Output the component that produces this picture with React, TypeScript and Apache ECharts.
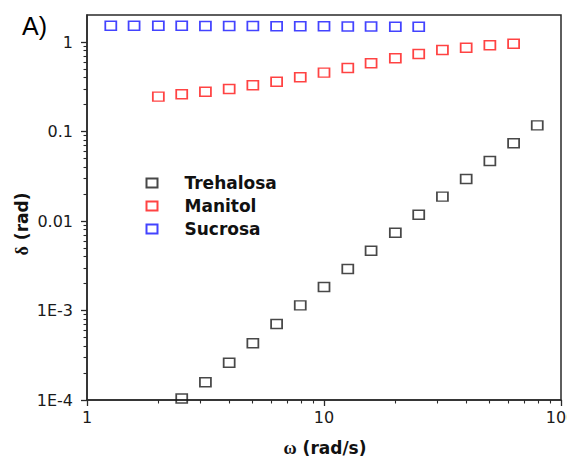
import React, { useEffect, useRef } from "react";
import * as echarts from "echarts";

const seriesNames = ["Trehalosa", "Manitol", "Sucrosa"];
const seriesColors = ["#1a1a1a", "#ff1414", "#1414ff"];

const freqTrehalosa = [2.51, 3.16, 3.98, 5.01, 6.31, 7.94, 10, 12.6, 15.8, 20, 25.1, 31.6, 39.8, 50.1, 63.1, 79.4];
const deltaTrehalosa = [1.04e-4, 1.58e-4, 2.61e-4, 4.3e-4, 7.06e-4, 1.14e-3, 1.83e-3, 2.91e-3, 4.66e-3, 7.4e-3, 0.01175, 0.0187, 0.0295, 0.0468, 0.0738, 0.117];

const freqManitol = [2, 2.51, 3.16, 3.98, 5.01, 6.31, 7.94, 10, 12.6, 15.8, 20, 25.1, 31.6, 39.8, 50.1, 63.1];
const deltaManitol = [0.245, 0.26, 0.278, 0.298, 0.328, 0.36, 0.403, 0.454, 0.512, 0.578, 0.658, 0.734, 0.814, 0.863, 0.919, 0.957];

const freqSucrosa = [1.26, 1.58, 2, 2.51, 3.16, 3.98, 5.01, 6.31, 7.94, 10, 12.6, 15.8, 20, 25.1];
const deltaSucrosa = [1.52, 1.52, 1.52, 1.52, 1.51, 1.51, 1.51, 1.5, 1.5, 1.5, 1.49, 1.49, 1.48, 1.48];

const xTickValues = [1, 10, 100];
const yTickValues = [1e-4, 1e-3, 0.01, 0.1, 1];

const zip = (xs: number[], ys: number[]) => xs.map((x, i) => [x, ys[i]]);

const AXIS_COLOR = "#2a2a2a";
const LABEL_FONT = "DejaVu Sans";

export default function App() {
  const ref = useRef<HTMLDivElement>(null);

  useEffect(() => {
    if (!ref.current) return;
    const chart = echarts.init(ref.current, undefined, { renderer: "svg" });

    const yLabel = (v: number) => {
      if (v >= 0.01) return String(Number(v.toPrecision(3)));
      return "1E" + Math.round(Math.log10(v));
    };

    const allData = [
      zip(freqTrehalosa, deltaTrehalosa),
      zip(freqManitol, deltaManitol),
      zip(freqSucrosa, deltaSucrosa),
    ];

    chart.setOption({
      animation: false,
      backgroundColor: "#ffffff",
      grid: [
        {
          left: 87,
          right: 6,
          top: 15,
          bottom: 58,
          outerBoundsMode: "none",
          containLabel: false,
          show: true,
          borderColor: AXIS_COLOR,
          borderWidth: 1.5,
          backgroundColor: "transparent",
        },
        { left: 87, right: 6, top: 42, bottom: 58, outerBoundsMode: "none", containLabel: false },
      ],
      xAxis: [
        {
          gridIndex: 0,
          type: "log",
          logBase: 10,
          min: xTickValues[0],
          max: xTickValues[xTickValues.length - 1],
          axisLine: { show: true, lineStyle: { color: AXIS_COLOR, width: 1.5 } },
          axisTick: { show: true, length: 6, lineStyle: { color: AXIS_COLOR, width: 1.3 } },
          minorTick: { show: true, splitNumber: 9, length: 3.5, lineStyle: { color: AXIS_COLOR, width: 1.1 } },
          splitLine: { show: false },
          axisLabel: {
            margin: 9,
            fontSize: 16,
            fontFamily: LABEL_FONT,
            color: "#1a1a1a",
            hideOverlap: false,
            formatter: (v: number) => String(v),
          },
        },
        { gridIndex: 1, type: "value", show: false, min: 0, max: 1 },
      ],
      yAxis: [
        {
          gridIndex: 0,
          type: "log",
          logBase: 10,
          min: 1e-4,
          max: 2,
          axisLine: { show: true, lineStyle: { color: AXIS_COLOR, width: 1.5 } },
          axisTick: { show: false },
          axisLabel: { show: false },
          splitLine: { show: false },
        },
        {
          gridIndex: 1,
          type: "log",
          logBase: 10,
          min: yTickValues[0],
          max: yTickValues[yTickValues.length - 1],
          axisLine: { show: false },
          axisTick: { show: true, length: 6, lineStyle: { color: AXIS_COLOR, width: 1.3 } },
          minorTick: { show: true, splitNumber: 9, length: 3.5, lineStyle: { color: AXIS_COLOR, width: 1.1 } },
          splitLine: { show: false },
          axisLabel: {
            margin: 14,
            fontSize: 16,
            fontFamily: LABEL_FONT,
            color: "#1a1a1a",
            formatter: yLabel,
          },
        },
      ],
      legend: {
        orient: "vertical",
        left: 145.5,
        top: 174,
        padding: 0,
        itemGap: 5,
        itemWidth: 11,
        itemHeight: 9,
        data: seriesNames,
        textStyle: {
          fontFamily: LABEL_FONT,
          fontWeight: "bold",
          fontSize: 17,
          lineHeight: 18,
          color: "#111",
          padding: [0, 0, 0, 22],
        },
      },
      series: seriesNames.map((name, i) => ({
        name,
        type: "scatter",
        xAxisIndex: 0,
        yAxisIndex: 0,
        symbol: "rect",
        symbolSize: [11, 9],
        itemStyle: {
          color: "rgba(255,255,255,0)",
          borderColor: seriesColors[i],
          borderWidth: 1.6,
        },
        emphasis: { disabled: true },
        data: allData[i],
      })),
      graphic: [
        {
          type: "text",
          x: 22,
          y: 26,
          style: {
            text: "A)",
            font: "25px 'Liberation Sans'",
            fill: "#000",
            align: "left",
            verticalAlign: "middle",
          },
        },
        {
          type: "text",
          x: 325,
          y: 448,
          style: {
            text: "{g|ω} (rad/s)",
            font: "bold 17px 'DejaVu Sans'",
            fill: "#111",
            align: "center",
            verticalAlign: "middle",
            rich: {
              g: { font: "bold 18px 'Liberation Serif'", fill: "#111" },
            },
          },
        },
        {
          type: "text",
          x: 22,
          y: 224,
          rotation: Math.PI / 2,
          style: {
            text: "{g|δ} (rad)",
            font: "bold 17px 'DejaVu Sans'",
            fill: "#111",
            align: "center",
            verticalAlign: "middle",
            rich: {
              g: { font: "bold 18px 'Liberation Serif'", fill: "#111" },
            },
          },
        },
      ],
    });

    return () => chart.dispose();
  }, []);

  return (
    <div
      ref={ref}
      style={{ position: "absolute", left: 0, top: 0, width: 567, height: 458 }}
    />
  );
}
